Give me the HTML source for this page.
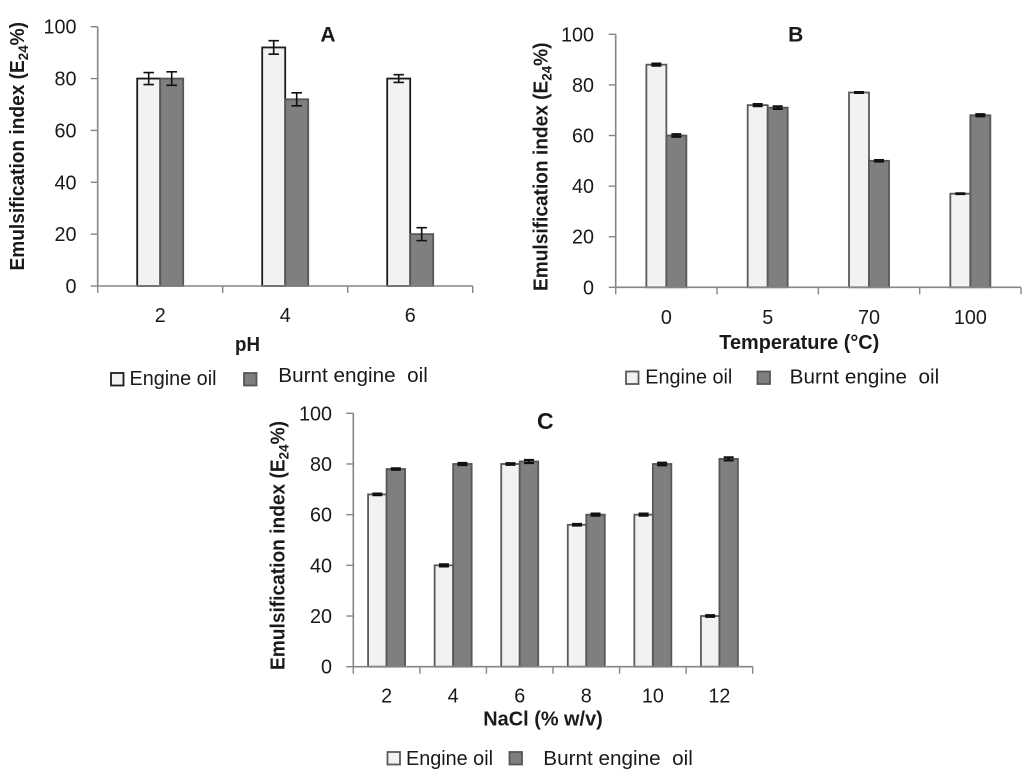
<!DOCTYPE html>
<html lang="en">
<head>
<meta charset="utf-8">
<title>Emulsification index charts</title>
<style>
html,body{margin:0;padding:0;background:#fff;}
svg{display:block;filter:blur(0.35px);}
text{font-family:"Liberation Sans",sans-serif;fill:#1a1a1a;}
</style>
</head>
<body>
<svg id="fig" xmlns="http://www.w3.org/2000/svg" width="1024" height="772" viewBox="0 0 1024 772"></svg>
<script>
const yTicks = [0, 20, 40, 60, 80, 100];

const phCategories = ['2', '4', '6'];
const phEngineOil = [80, 92, 80];
const phBurntOil = [80, 72, 20];
const phEngineErr = [2.3, 2.6, 1.5];
const phBurntErr = [2.6, 2.5, 2.5];

const tempCategories = ['0', '5', '70', '100'];
const tempEngineOil = [88, 72, 77, 37];
const tempBurntOil = [60, 71, 50, 68];
const tempEngineErr = [0.4, 0.4, 0.15, 0.15];
const tempBurntErr = [0.5, 0.5, 0.3, 0.4];

const naclCategories = ['2', '4', '6', '8', '10', '12'];
const naclEngineOil = [68, 40, 80, 56, 60, 20];
const naclBurntOil = [78, 80, 81, 60, 80, 82];
const naclEngineErr = [0.3, 0.4, 0.3, 0.3, 0.4, 0.3];
const naclBurntErr = [0.3, 0.4, 0.6, 0.4, 0.5, 0.6];

const svg = document.getElementById('fig');
const NS = 'http://www.w3.org/2000/svg';

function make(parent, tag, attrs) {
  const el = document.createElementNS(NS, tag);
  for (const k in attrs) el.setAttribute(k, attrs[k]);
  parent.appendChild(el);
  return el;
}

function label(parent, name, str, attrs) {
  const el = make(parent, 'text', attrs);
  
  
  el.textContent = str;
  return el;
}

function drawPanel(p) {
  const g = make(svg, 'g', {});
  
  

  const yScale = v => p.bottom - (v / 100) * (p.bottom - p.top);
  const groupW = (p.right - p.left) / p.categories.length;
  const xCenter = i => p.left + groupW * (i + 0.5);

  function drawSeries(values, side, fill, stroke, seriesName) {
    values.forEach((v, i) => {
      const x = side < 0 ? xCenter(i) - p.barW : xCenter(i);
      const bar = make(g, 'rect', {
        x: x, y: yScale(v), width: p.barW, height: p.bottom - yScale(v),
        fill: fill, stroke: stroke, 'stroke-width': p.barStroke
      });
      
      
    });
  }

  function drawErrors(values, errs, side, seriesName) {
    values.forEach((v, i) => {
      const cx = xCenter(i) + side * p.barW / 2;
      const y1 = yScale(v + errs[i]);
      const y2 = yScale(v - errs[i]);
      const eb = make(g, 'path', {
        d: 'M' + (cx - p.capW / 2) + ' ' + y1 + 'H' + (cx + p.capW / 2) +
           'M' + cx + ' ' + y1 + 'V' + y2 +
           'M' + (cx - p.capW / 2) + ' ' + y2 + 'H' + (cx + p.capW / 2),
        fill: 'none', stroke: '#111', 'stroke-width': p.errStroke
      });
      
      
    });
  }

  drawSeries(p.engine, -1, '#f2f2f2', p.engineStroke, 'engine-oil');
  drawSeries(p.burnt, 1, '#7f7f7f', '#575757', 'burnt-engine-oil');
  drawErrors(p.engine, p.engineErr, -1, 'engine-oil');
  drawErrors(p.burnt, p.burntErr, 1, 'burnt-engine-oil');

  const yAxis = make(g, 'line', {x1: p.left, y1: p.top, x2: p.left, y2: p.bottom, stroke: '#868686', 'stroke-width': 1.6});
  
  
  const xAxis = make(g, 'line', {x1: p.left, y1: p.bottom, x2: p.right, y2: p.bottom, stroke: '#868686', 'stroke-width': 1.6});
  
  

  yTicks.forEach(t => {
    const tick = make(g, 'line', {x1: p.left - 7, y1: yScale(t), x2: p.left, y2: yScale(t), stroke: '#868686', 'stroke-width': 1.4});
    
    
    const tl = label(g, 'y-tick-label', String(t), {x: p.yLabelX, y: yScale(t) + 7, 'text-anchor': 'end', 'font-size': 20.5});
    tl.setAttribute('textLength', 11 * String(t).length);
    tl.setAttribute('lengthAdjust', 'spacingAndGlyphs');
  });

  for (let i = 0; i <= p.categories.length; i++) {
    const tx = p.left + groupW * i;
    const tick = make(g, 'line', {x1: tx, y1: p.bottom, x2: tx, y2: p.bottom + 7, stroke: '#868686', 'stroke-width': 1.4});
    
    
  }
  p.categories.forEach((c, i) => {
    const tl = label(g, 'x-tick-label', c, {x: xCenter(i), y: p.xLabelY, 'text-anchor': 'middle', 'font-size': 20.5});
    tl.setAttribute('textLength', 11 * c.length);
    tl.setAttribute('lengthAdjust', 'spacingAndGlyphs');
  });

  const xt = p.xTitle;
  label(g, 'x-axis-title', xt.text, {x: xt.x, y: xt.y, 'font-size': 20, 'font-weight': 'bold', textLength: xt.w, lengthAdjust: 'spacingAndGlyphs'});

  label(g, 'panel-title', p.id.toUpperCase(), {x: p.titleX, y: p.titleY, 'text-anchor': 'middle', 'font-size': p.titleSize, 'font-weight': 'bold'});

  const yt = p.yTitle;
  const yTitle = make(g, 'text', {
    transform: 'translate(' + yt.x + ' ' + yt.y1 + ') rotate(-90)',
    'font-size': 20, 'font-weight': 'bold', textLength: yt.y1 - yt.y2, lengthAdjust: 'spacingAndGlyphs'
  });
  
  
  yTitle.appendChild(document.createTextNode('Emulsification index (E'));
  const sub = make(yTitle, 'tspan', {dy: 4, 'font-size': 14});
  sub.textContent = '24';
  const rest = make(yTitle, 'tspan', {dy: -4});
  rest.textContent = '%)';

  const l = p.legend;
  const box1 = make(g, 'rect', {x: l.box1, y: l.boxY, width: 12.5, height: 12.5, fill: '#f2f2f2', stroke: p.engineStroke, 'stroke-width': 1.8});
  
  
  label(g, 'legend-label-engine-oil', 'Engine oil', {x: l.text1, y: l.y1, 'font-size': 20.5, textLength: 87, lengthAdjust: 'spacingAndGlyphs'});
  const box2 = make(g, 'rect', {x: l.box2, y: l.boxY, width: 12.5, height: 12.5, fill: '#7f7f7f', stroke: '#575757', 'stroke-width': 1.8});
  
  
  const t2 = label(g, 'legend-label-burnt-engine-oil', 'Burnt engine\u00a0\u00a0oil', {x: l.text2, y: l.y2, 'font-size': 20.5, textLength: 149.5, lengthAdjust: 'spacingAndGlyphs'});
  return t2;
}

drawPanel({
  id: 'a', categories: phCategories, engine: phEngineOil, burnt: phBurntOil,
  engineErr: phEngineErr, burntErr: phBurntErr,
  left: 97.7, right: 472.7, top: 26.7, bottom: 286, barW: 23, capW: 10.5,
  barStroke: 1.8, errStroke: 1.6, engineStroke: '#1c1c1c',
  yLabelX: 76.5, xLabelY: 322,
  xTitle: {text: 'pH', x: 235, y: 351, w: 25},
  titleX: 328, titleY: 41.5, titleSize: 21,
  yTitle: {x: 24, y1: 270.5, y2: 22},
  legend: {box1: 111, box2: 244, boxY: 373, text1: 129.5, text2: 278.3, y1: 385, y2: 382}
});

drawPanel({
  id: 'b', categories: tempCategories, engine: tempEngineOil, burnt: tempBurntOil,
  engineErr: tempEngineErr, burntErr: tempBurntErr,
  left: 615.7, right: 1021, top: 34.3, bottom: 287.3, barW: 20, capW: 10,
  barStroke: 1.8, errStroke: 2.2, engineStroke: '#5a5a5a',
  yLabelX: 594, xLabelY: 324,
  xTitle: {text: 'Temperature (°C)', x: 719.3, y: 349, w: 160},
  titleX: 795.7, titleY: 41.5, titleSize: 21,
  yTitle: {x: 547.5, y1: 291, y2: 42.5},
  legend: {box1: 626, box2: 757.5, boxY: 371.5, text1: 645.3, text2: 789.7, y1: 383.3, y2: 383.3}
});

drawPanel({
  id: 'c', categories: naclCategories, engine: naclEngineOil, burnt: naclBurntOil,
  engineErr: naclEngineErr, burntErr: naclBurntErr,
  left: 353.3, right: 752.7, top: 413.3, bottom: 666.7, barW: 18.5, capW: 10,
  barStroke: 1.8, errStroke: 2.2, engineStroke: '#5a5a5a',
  yLabelX: 332, xLabelY: 702.3,
  xTitle: {text: 'NaCl (% w/v)', x: 483.3, y: 725.5, w: 119.5},
  titleX: 545.3, titleY: 429, titleSize: 23,
  yTitle: {x: 284.5, y1: 670, y2: 421},
  legend: {box1: 387.5, box2: 509.5, boxY: 752, text1: 406, text2: 543.3, y1: 765, y2: 765}
});
</script>
</body>
</html>
